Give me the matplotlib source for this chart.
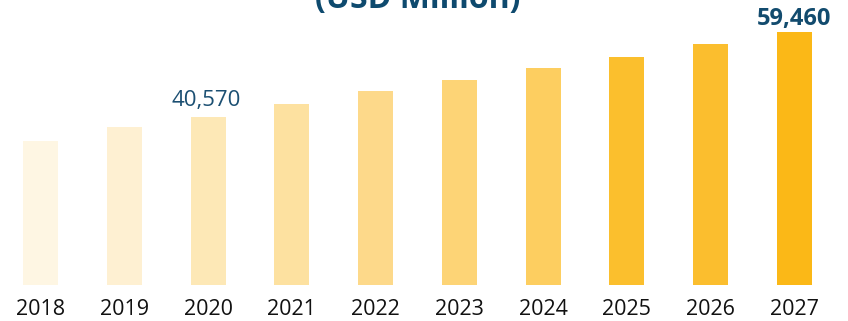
import matplotlib
matplotlib.use("Agg")
from matplotlib import pyplot as plt

years = ["2018", "2019", "2020", "2021", "2022", "2023", "2024", "2025", "2026", "2027"]
values = [35230, 38350, 40570, 43460, 46340, 48790, 51460, 53900, 56790, 59460]
colors = ["#FEF6E3", "#FEF0D2", "#FDE8B6", "#FDE1A0", "#FDD98A",
          "#FDD476", "#FDCE60", "#FBBF2D", "#FBBE2E", "#FBB817"]
title = "(USD Million)"

plt.rcParams["font.family"] = ["Open Sans", "DejaVu Sans"]

fig = plt.figure(figsize=(8.48, 3.21), dpi=100)
ax = fig.add_axes([0, 36 / 321, 1, 285 / 321])

x = list(range(len(years)))
bars = ax.bar(x, values, width=0.418, color=colors)

ax.set_xlim(-0.4834, 9.639)
ax.set_ylim(3234, 66568)
ax.set_xticks(x)
ax.set_xticklabels(years, fontsize=15.5, color="#111111")
ax.tick_params(axis="x", length=0, pad=10)
ax.set_yticks([])
for s in ax.spines.values():
    s.set_visible(False)

# value labels only on 2020 and 2027
ax.annotate("40,570", (2, values[2]), xytext=(-1, 4), textcoords="offset points",
            ha="center", va="bottom", fontsize=16, color="#1B4F72")
ax.annotate("59,460", (9, values[9]), xytext=(0, 1), textcoords="offset points",
            ha="center", va="bottom", fontsize=17, fontweight="bold", color="#124B6E")

# title is partly outside the top edge, as in the source image
fig.text(418 / 848, 1 - 8 / 321, title, ha="center", va="baseline",
         fontsize=23, fontweight="bold", color="#0E4A6E")

fig.savefig("out.png", dpi=100)
